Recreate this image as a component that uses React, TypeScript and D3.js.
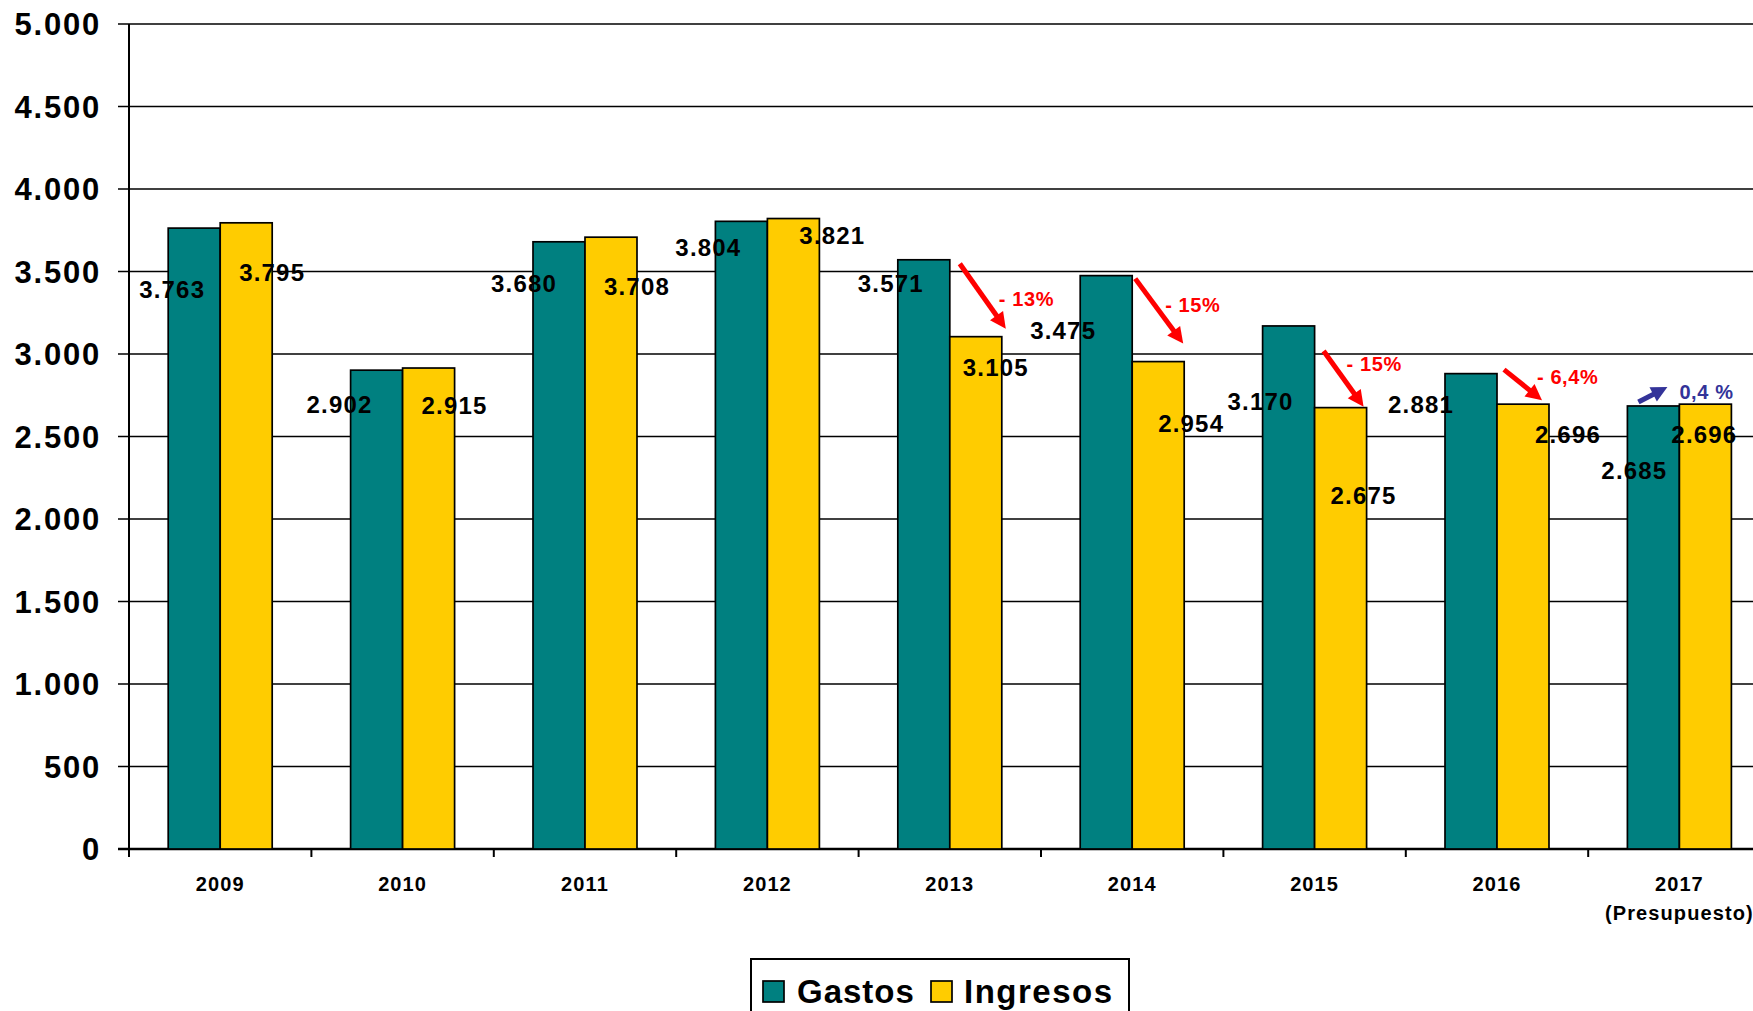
import React from 'react';
import * as d3 from 'd3';

// datos
const years = ['2009', '2010', '2011', '2012', '2013', '2014', '2015', '2016', '2017'];
const gastos = [3763, 2902, 3680, 3804, 3571, 3475, 3170, 2881, 2685];
const ingresos = [3795, 2915, 3708, 3821, 3105, 2954, 2675, 2696, 2696];
const yTicks = [0, 500, 1000, 1500, 2000, 2500, 3000, 3500, 4000, 4500, 5000];
const series = ['Gastos', 'Ingresos'];
const changes = [
  { year: '2013', text: '- 13%' },
  { year: '2014', text: '- 15%' },
  { year: '2015', text: '- 15%' },
  { year: '2016', text: '- 6,4%' },
  { year: '2017', text: '0,4 %' }
];

// desplazamiento de las etiquetas (como en el original, no centradas)
const gastosLabelShift = [[-22, 61], [-37, 34], [-35, 42], [-33, 26], [-33, 24], [-43, 55], [-28, 75], [-50, 31], [-19, 64]];
const ingresosLabelShift = [[26, 50], [26, 37], [26, 49], [39, 17], [20, 31], [33, 62], [23, 88], [45, 30], [-1, 30]];
// flechas: [inicio dx, inicio dy, fin dx, fin dy, texto dx, texto dy]
const arrowShift = [
  [10, 4, 4, -8, -7, -30],
  [3, 3, -1, -18, -18, -39],
  [9, 25, -3, -1, -17, -43],
  [7, -4, -7, -4, -5, -23],
  [11, -4, 40, -19, 12, 5]
];

const W = 1753;
const H = 1011;
const colors = { Gastos: '#008080', Ingresos: '#FFCC00' };
const font = '"Liberation Sans", Arial, sans-serif';
const fmt = (v: number) => d3.format(',')(v).replace(/,/g, '.');

const App = () => {
  const x0 = d3.scaleBand().domain(years).range([129, 129 + 9 * 182.4]).padding(0);
  const x1 = d3.scaleBand().domain(series).range([0, x0.bandwidth()]).paddingInner(0).paddingOuter(0.754);
  const y = d3.scaleLinear().domain([0, 5000]).range([849, 24]);
  const bw = x1.bandwidth();

  const arrow = (xa: number, ya: number, xb: number, yb: number, color: string) => {
    const ang = Math.atan2(yb - ya, xb - xa);
    const len = 16;
    const half = 8;
    const bx = xb - len * Math.cos(ang);
    const by = yb - len * Math.sin(ang);
    const px = -Math.sin(ang) * half;
    const py = Math.cos(ang) * half;
    return (
      <g>
        <line x1={xa} y1={ya} x2={bx + Math.cos(ang) * 2} y2={by + Math.sin(ang) * 2} stroke={color} strokeWidth={5} />
        <polygon points={`${xb},${yb} ${bx + px},${by + py} ${bx - px},${by - py}`} fill={color} />
      </g>
    );
  };

  return (
    <svg width={W} height={H} style={{ position: 'absolute', left: 0, top: 0, background: '#fff' }} fontFamily={font}>
      {/* rejilla */}
      {yTicks.map(t => (
        <g key={t}>
          <line x1={118} x2={W} y1={y(t)} y2={y(t)} stroke='#000' strokeWidth={t === 0 ? 2.5 : 1.7} />
          <text x={101} y={y(t)} dy='0.36em' textAnchor='end' fontSize={31} fontWeight='bold' letterSpacing={1.8}>
            {fmt(t)}
          </text>
        </g>
      ))}
      <line x1={129} x2={129} y1={24} y2={857} stroke='#000' strokeWidth={2} />
      {years.map(yr => (
        <line key={'t' + yr} x1={(x0(yr) as number) + x0.bandwidth()} x2={(x0(yr) as number) + x0.bandwidth()} y1={849} y2={857} stroke='#000' strokeWidth={2} />
      ))}

      {/* barras */}
      {years.map((yr, i) => (
        <g key={yr} transform={`translate(${x0(yr)},0)`}>
          {[gastos[i], ingresos[i]].map((v, j) => (
            <rect key={j} x={x1(series[j])} y={y(v)} width={bw} height={y(0) - y(v)}
              fill={colors[series[j]]} stroke='#000' strokeWidth={1.7} />
          ))}
        </g>
      ))}

      {/* etiquetas de valores */}
      {years.map((yr, i) => {
        const gx = (x0(yr) as number) + (x1('Gastos') as number) + bw / 2;
        const ix = (x0(yr) as number) + (x1('Ingresos') as number) + bw / 2;
        return (
          <g key={'l' + yr} fontSize={24} fontWeight='bold' textAnchor='middle' letterSpacing={1.2}>
            <text x={gx + gastosLabelShift[i][0]} y={y(gastos[i]) + gastosLabelShift[i][1]} dy='0.36em'>
              {fmt(gastos[i])}
            </text>
            <text x={ix + ingresosLabelShift[i][0]} y={y(ingresos[i]) + ingresosLabelShift[i][1]} dy='0.36em'>
              {fmt(ingresos[i])}
            </text>
          </g>
        );
      })}

      {/* flechas de variacion */}
      {changes.map((c, k) => {
        const i = years.indexOf(c.year);
        const gx = (x0(c.year) as number) + (x1('Gastos') as number);
        const ix = (x0(c.year) as number) + (x1('Ingresos') as number);
        const s = arrowShift[k];
        const down = ingresos[i] < gastos[i];
        const color = down ? '#FF0000' : '#333399';
        const xa = (down ? gx + bw : gx) + s[0];
        const ya = y(gastos[i]) + s[1];
        const xb = (down ? ix + bw : gx) + s[2];
        const yb = (down ? y(ingresos[i]) : y(gastos[i])) + s[3];
        return (
          <g key={'a' + c.year}>
            {arrow(xa, ya, xb, yb, color)}
            <text x={xb + s[4]} y={yb + s[5]} dy='0.36em' fontSize={20} fontWeight='bold' fill={color} letterSpacing={0.6}>
              {c.text}
            </text>
          </g>
        );
      })}

      {/* eje x */}
      {years.map(yr => {
        const cx = (x0(yr) as number) + x0.bandwidth() / 2;
        return (
          <g key={'x' + yr} fontSize={20} fontWeight='bold' textAnchor='middle' letterSpacing={1.1}>
            <text x={cx} y={891}>{yr}</text>
            {yr === '2017' && <text x={cx} y={920}>(Presupuesto)</text>}
          </g>
        );
      })}

      {/* leyenda */}
      <rect x={751} y={959} width={378} height={70} fill='#fff' stroke='#000' strokeWidth={2} />
      <rect x={763} y={981} width={21} height={21} fill={colors.Gastos} stroke='#000' strokeWidth={1.7} />
      <text x={797} y={1003} fontSize={33} fontWeight='bold' letterSpacing={1}>Gastos</text>
      <rect x={931} y={981} width={21} height={21} fill={colors.Ingresos} stroke='#000' strokeWidth={1.7} />
      <text x={964} y={1003} fontSize={33} fontWeight='bold' letterSpacing={1.5}>Ingresos</text>
    </svg>
  );
};

export default App;
